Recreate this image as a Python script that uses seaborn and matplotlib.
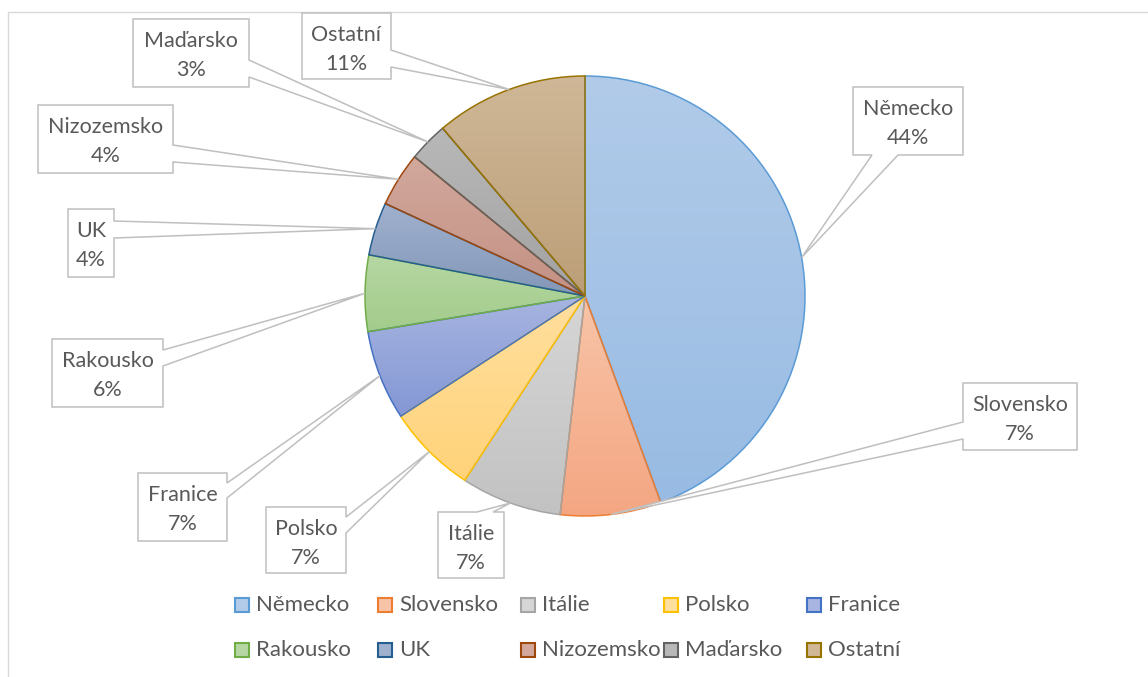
import matplotlib
matplotlib.use('Agg')
import matplotlib.pyplot as plt
from matplotlib.patches import Polygon, Rectangle
from matplotlib.colors import LinearSegmentedColormap
import seaborn as sns
import numpy as np

# export shares by country (%)
countries = ['Německo', 'Slovensko', 'Itálie', 'Polsko', 'Franice',
             'Rakousko', 'UK', 'Nizozemsko', 'Maďarsko', 'Ostatní']
shares = [44.4, 7.4, 7.4, 6.6, 6.6, 5.6, 3.9, 4.0, 2.9, 11.2]

edge_colors = ['#5B9BD5', '#ED7D31', '#A5A5A5', '#FFC000', '#4472C4',
               '#70AD47', '#255E91', '#9E480E', '#636363', '#997300']
fill_top = ['#B1CBE9', '#F8C4A8', '#D6D6D6', '#FFDF9E', '#A7B5E0',
            '#B6D7A3', '#9FB1CE', '#D2A89D', '#B8B8B8', '#CFB797']
fill_bottom = ['#98BBE3', '#F4A682', '#C2C2C2', '#FFD37A', '#8497D5',
               '#A3CC8B', '#8497B8', '#C49184', '#A2A2A2', '#BC9F78']

# callout boxes (x0, y0, x1, y1 in pixels), side of the pointer, pointer base
callouts = {
    'Německo': ((853, 87, 963, 155), 'bottom', 872, 898),
    'Slovensko': ((963, 383, 1077, 450), 'left', 422, 439),
    'Itálie': ((438, 512, 504, 578), 'top', 477, 493),
    'Polsko': ((266, 507, 346, 573), 'right', 517, 533),
    'Franice': ((138, 473, 227, 541), 'right', 483, 498),
    'Rakousko': ((52, 339, 163, 407), 'right', 350, 366),
    'UK': ((68, 209, 114, 277), 'right', 221, 238),
    'Nizozemsko': ((38, 105, 173, 173), 'right', 145, 162),
    'Maďarsko': ((133, 19, 249, 87), 'right', 60, 77),
    'Ostatní': ((302, 13, 391, 79), 'right', 50, 67),
}

TEXT = '#595959'
W, H = 1148, 677

sns.set_theme(style='white')
plt.rcParams['font.family'] = ['Lato', 'DejaVu Sans']

fig = plt.figure(figsize=(W / 100, H / 100), dpi=100)
ax = fig.add_axes([0, 0, 1, 1])

wedges, _ = ax.pie(shares, center=(585, 296), radius=220, startangle=-90,
                   counterclock=True, colors=fill_bottom,
                   wedgeprops=dict(linewidth=1.1))

grad = np.linspace(0, 1, 256).reshape(-1, 1)
for w, top, bot, ec in zip(wedges, fill_top, fill_bottom, edge_colors):
    w.set_edgecolor(ec)
    w.set_facecolor('none')
    w.set_zorder(3)
    ext = w.get_path().get_extents()
    cmap = LinearSegmentedColormap.from_list('g', [top, bot])
    im = ax.imshow(grad, cmap=cmap, extent=[ext.x0, ext.x1, ext.y1, ext.y0],
                   aspect='auto', zorder=2, interpolation='bilinear')
    im.set_clip_path(w)


def callout_points(box, side, a, b, tip):
    x0, y0, x1, y1 = box
    if side == 'right':
        return [(x0, y0), (x1, y0), (x1, a), tip, (x1, b), (x1, y1), (x0, y1)]
    if side == 'left':
        return [(x0, y0), (x1, y0), (x1, y1), (x0, y1), (x0, b), tip, (x0, a)]
    if side == 'bottom':
        return [(x0, y0), (x1, y0), (x1, y1), (b, y1), tip, (a, y1), (x0, y1)]
    return [(x0, y0), (a, y0), tip, (b, y0), (x1, y0), (x1, y1), (x0, y1)]


for w, name, val in zip(wedges, countries, shares):
    mid = np.deg2rad((w.theta1 + w.theta2) / 2)
    tip = (w.center[0] + w.r * np.cos(mid), w.center[1] + w.r * np.sin(mid))
    box, side, a, b = callouts[name]
    ax.add_patch(Polygon(callout_points(box, side, a, b, tip), closed=True,
                         facecolor='white', edgecolor='#BFBFBF', lw=1.1, zorder=4))
    cx = (box[0] + box[2]) / 2
    ax.text(cx, box[1] + 28, name, ha='center', va='baseline',
            fontsize=15.5, color=TEXT, zorder=5)
    ax.text(cx, box[1] + 57, f'{round(val)}%', ha='center', va='baseline',
            fontsize=15.5, color=TEXT, zorder=5)

# legend, 5 columns x 2 rows
for i, name in enumerate(countries):
    lx = 235 + (i % 5) * 143
    ly = 611 + (i // 5) * 45
    ax.add_patch(Rectangle((lx, ly - 13), 14, 14, facecolor=fill_top[i],
                           edgecolor=edge_colors[i], lw=1.5, zorder=4))
    ax.text(lx + 21, ly, name, ha='left', va='baseline', fontsize=16,
            color=TEXT, zorder=5)

# chart area border
ax.add_patch(Rectangle((8, 12), W, H, facecolor='none', edgecolor='#D9D9D9',
                       lw=1, zorder=1))

ax.set_xlim(0, W)
ax.set_ylim(H, 0)
ax.set_aspect('equal')
ax.axis('off')

fig.savefig('out.png', dpi=100)
